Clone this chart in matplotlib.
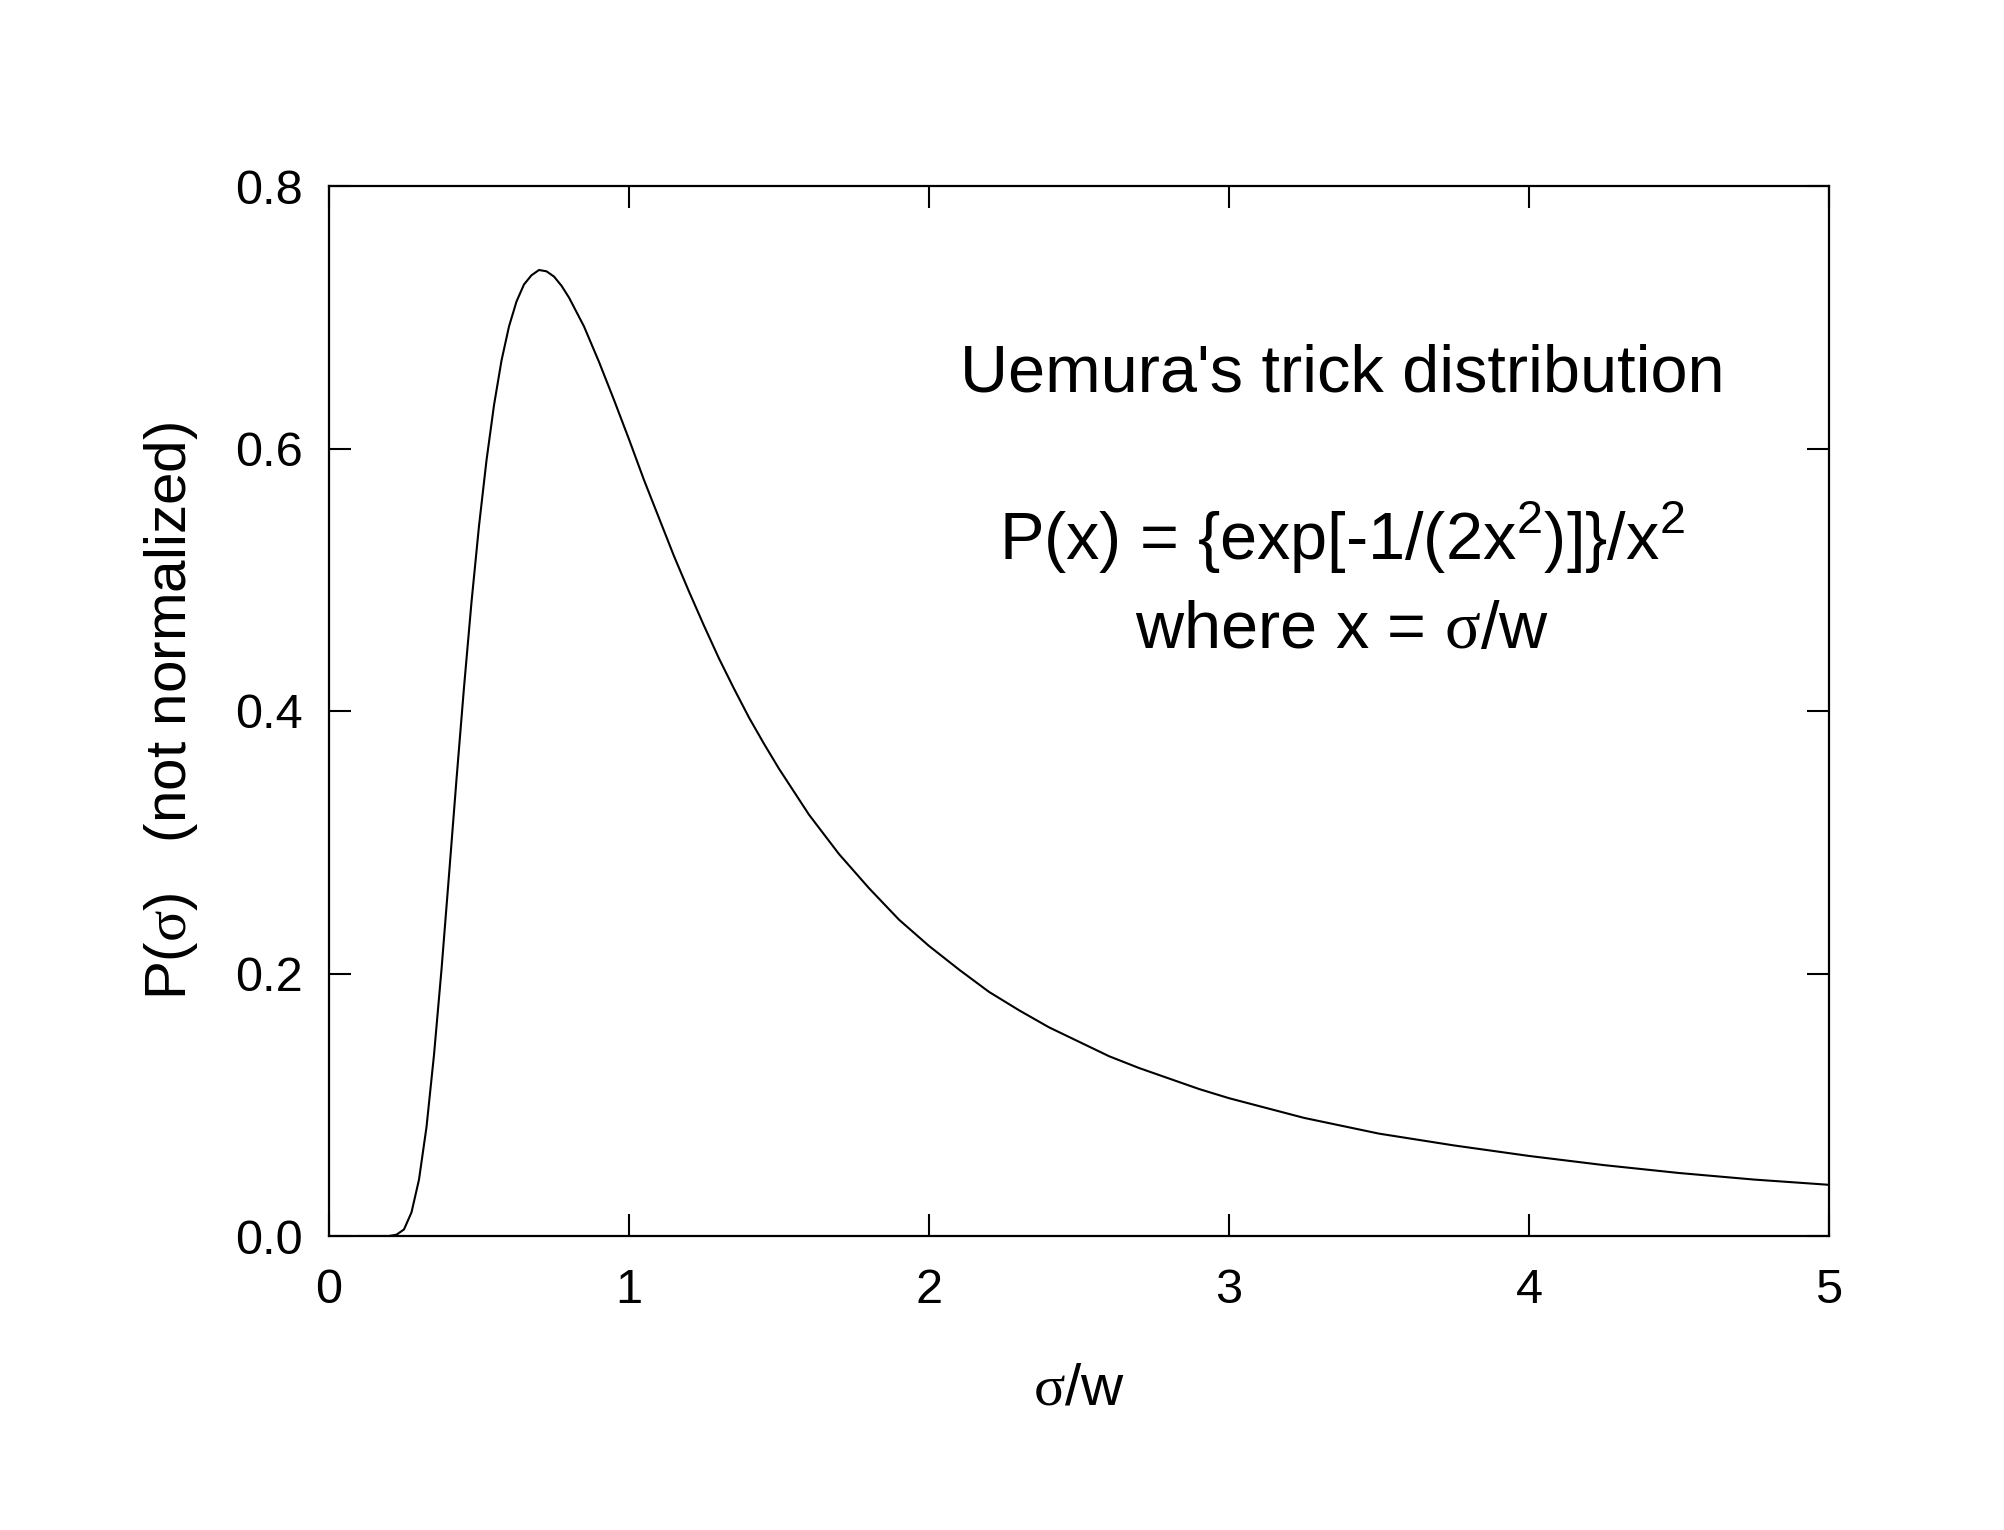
import matplotlib
matplotlib.use("Agg")
import matplotlib.pyplot as plt

plt.rcParams['font.family'] = ['Liberation Sans', 'DejaVu Sans']
plt.rcParams['mathtext.fontset'] = 'custom'
plt.rcParams['mathtext.rm'] = 'Liberation Serif'
plt.rcParams['mathtext.sf'] = 'Liberation Sans'

# values
sigma_w = [0.100, 0.150, 0.200, 0.225, 0.250, 0.275, 0.300, 0.325, 0.350, 0.375,
           0.400, 0.425, 0.450, 0.475, 0.500, 0.525, 0.550, 0.575, 0.600, 0.625,
           0.650, 0.675, 0.700, 0.725, 0.750, 0.775, 0.800, 0.850, 0.900, 0.950,
           1.00, 1.05, 1.10, 1.15, 1.20, 1.25, 1.30, 1.35, 1.40, 1.45,
           1.50, 1.60, 1.70, 1.80, 1.90, 2.00, 2.10, 2.20, 2.30, 2.40,
           2.50, 2.60, 2.70, 2.80, 2.90, 3.00, 3.25, 3.50, 3.75, 4.00,
           4.25, 4.50, 4.75, 5.00]
p_sigma = [0.000, 0.000, 0.000, 0.001, 0.005, 0.018, 0.043, 0.083, 0.138, 0.203,
           0.275, 0.348, 0.418, 0.483, 0.541, 0.591, 0.633, 0.667, 0.693, 0.712,
           0.725, 0.732, 0.736, 0.735, 0.731, 0.724, 0.715, 0.693, 0.666, 0.637,
           0.607, 0.576, 0.547, 0.518, 0.491, 0.465, 0.440, 0.417, 0.395, 0.375,
           0.356, 0.321, 0.291, 0.265, 0.241, 0.221, 0.203, 0.186, 0.172, 0.159,
           0.148, 0.137, 0.128, 0.120, 0.112, 0.105, 0.090, 0.078, 0.069, 0.061,
           0.054, 0.048, 0.043, 0.039]

x_ticks = [0, 1, 2, 3, 4, 5]
x_tick_labels = ["0", "1", "2", "3", "4", "5"]
y_ticks = [0.0, 0.2, 0.4, 0.6, 0.8]
y_tick_labels = ["0.0", "0.2", "0.4", "0.6", "0.8"]

fig = plt.figure(figsize=(20.04, 15.30), dpi=100)
ax = fig.add_axes([329/2004, 1 - 1236/1530, 1500/2004, 1050/1530])

ax.plot(sigma_w, p_sigma, color='black', lw=1.5)

ax.set_xlim(0, 5)
ax.set_ylim(0, 0.8)
ax.set_xticks(x_ticks)
ax.set_xticklabels(x_tick_labels)
ax.set_yticks(y_ticks)
ax.set_yticklabels(y_tick_labels)

for s in ax.spines.values():
    s.set_linewidth(1.6)
    s.set_color('black')

ax.tick_params(axis='both', which='major', direction='in', length=16, width=1.5,
               top=True, right=True, labelsize=35, colors='black')
ax.tick_params(axis='x', pad=23)
ax.tick_params(axis='y', pad=19)

ax.set_xlabel(r"$\mathrm{\sigma}$/w", fontsize=42, labelpad=36)
ax.set_ylabel(r"P($\mathrm{\sigma}$)   (not normalized)", fontsize=42, labelpad=25)

cx = 1342 / 2004
fig.text(cx, 1 - 391/1530, "Uemura's trick distribution", fontsize=48,
         ha='center', va='baseline')
fig.text(cx, 1 - 560/1530, r"P(x) = {exp[-1/(2x$^{\mathsf{2}}$)]}/x$^{\mathsf{2}}$",
         fontsize=48, ha='center', va='baseline')
fig.text(cx, 1 - 648/1530, r"where x = $\mathrm{\sigma}$/w", fontsize=48,
         ha='center', va='baseline')

fig.savefig("out.png", dpi=100, facecolor='white')
